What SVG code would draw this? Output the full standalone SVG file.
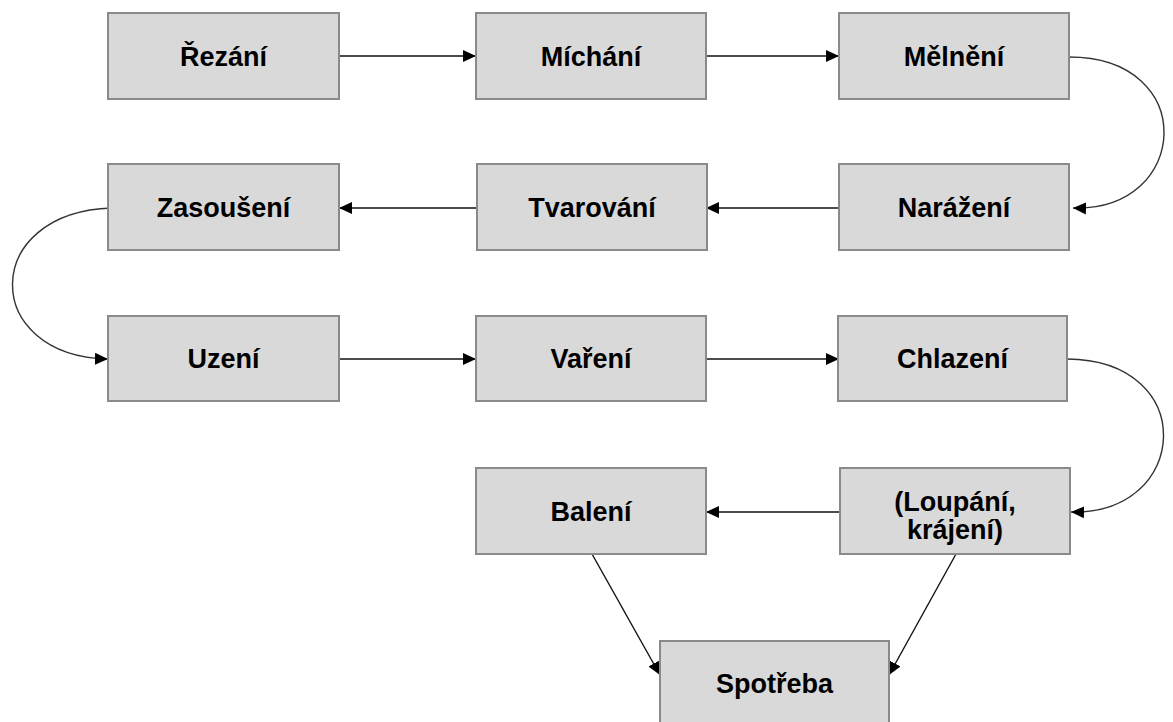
<svg xmlns="http://www.w3.org/2000/svg" width="1173" height="722" viewBox="0 0 1173 722">
<style>
.box{fill:#d9d9d9;stroke:#8a8a8a;stroke-width:2}
.lbl{font-family:"Liberation Sans",Arial,sans-serif;font-weight:bold;font-size:27px;fill:#000;text-anchor:middle}
.con{fill:none;stroke:#111;stroke-width:1.4;marker-end:url(#ah)}
.cur{fill:none;stroke:#333;stroke-width:1.4;marker-end:url(#ah)}
</style>
<defs>
<marker id="ah" markerUnits="userSpaceOnUse" markerWidth="14" markerHeight="14" viewBox="0 0 14 14" refX="13" refY="7" orient="auto">
<path d="M0,1 L13,7 L0,13 z" fill="#000"/>
</marker>
</defs>
<rect width="1173" height="722" fill="#fff"/>
<g id="connectors">
<path class="con" d="M339 56 H476"/>
<path class="con" d="M706 56 H839"/>
<path class="cur" d="M1069 57 C1200 57 1190 212 1073 208"/>
<path class="con" d="M839 208 H706"/>
<path class="con" d="M477 208 H339"/>
<path class="cur" d="M112 208 C-20 212 -20 356 108 359"/>
<path class="con" d="M339 359 H476"/>
<path class="con" d="M706 359 H839"/>
<path class="cur" d="M1067 359 C1200 360 1190 515 1071 512"/>
<path class="con" d="M840 512 H706"/>
<path class="con" d="M592 554 L660 675"/>
<path class="con" d="M956 554 L889 675"/>
</g>
<g id="n1"><rect class="box" x="108" y="13" width="231" height="86"/><text class="lbl" x="223.5" y="66">Řezání</text></g>
<g id="n2"><rect class="box" x="476" y="13" width="230" height="86"/><text class="lbl" x="591" y="66">Míchání</text></g>
<g id="n3"><rect class="box" x="839" y="13" width="230" height="86"/><text class="lbl" x="954" y="66">Mělnění</text></g>
<g id="n4"><rect class="box" x="839" y="164" width="230" height="86"/><text class="lbl" x="954" y="217">Narážení</text></g>
<g id="n5"><rect class="box" x="477" y="164" width="230" height="86"/><text class="lbl" x="592" y="217">Tvarování</text></g>
<g id="n6"><rect class="box" x="108" y="164" width="231" height="86"/><text class="lbl" x="223.5" y="217">Zasoušení</text></g>
<g id="n7"><rect class="box" x="108" y="316" width="231" height="85"/><text class="lbl" x="223.5" y="368">Uzení</text></g>
<g id="n8"><rect class="box" x="476" y="316" width="230" height="85"/><text class="lbl" x="591" y="368">Vaření</text></g>
<g id="n9"><rect class="box" x="838" y="316" width="229" height="85"/><text class="lbl" x="952.5" y="368">Chlazení</text></g>
<g id="n10"><rect class="box" x="840" y="468" width="230" height="86"/><text class="lbl" x="955" y="511">(Loupání,</text><text class="lbl" x="955" y="539">krájení)</text></g>
<g id="n11"><rect class="box" x="476" y="468" width="230" height="86"/><text class="lbl" x="591" y="521">Balení</text></g>
<g id="n12"><rect class="box" x="660" y="641" width="229" height="90"/><text class="lbl" x="774.5" y="693">Spotřeba</text></g>
</svg>
